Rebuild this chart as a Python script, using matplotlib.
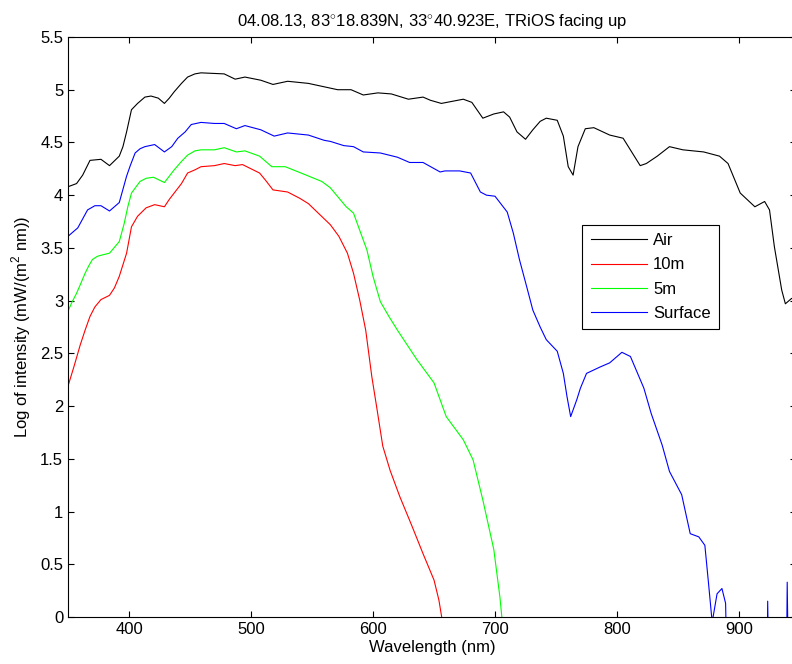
import matplotlib
matplotlib.use('Agg')
import matplotlib.pyplot as plt
import numpy as np

plt.rcParams['font.family'] = ['Liberation Sans', 'DejaVu Sans']
plt.rcParams['mathtext.fontset'] = 'custom'
plt.rcParams['mathtext.rm'] = 'Liberation Sans'

# Air (black)
air_wl = [350, 357, 362, 368, 377, 384, 392, 395, 398, 402, 407, 413, 418, 424, 429,
          433, 437, 443, 448, 454, 459, 478, 487, 495, 508, 518, 530, 547, 571, 582,
          592, 604, 615, 629, 641, 647, 656, 674, 681, 690, 699, 707, 712, 718, 725,
          731, 737, 742, 751, 756, 760, 764, 768, 774, 781, 794, 805, 812, 819, 824,
          833, 843, 854, 871, 884, 891, 901, 913, 921, 925, 929, 935, 938, 943, 947]
air = [4.08, 4.11, 4.19, 4.33, 4.34, 4.28, 4.37, 4.46, 4.60, 4.81, 4.87, 4.93, 4.94, 4.92, 4.87,
       4.92, 4.98, 5.06, 5.12, 5.15, 5.16, 5.15, 5.10, 5.12, 5.09, 5.05, 5.08, 5.06, 5.00, 5.00,
       4.95, 4.97, 4.96, 4.91, 4.93, 4.90, 4.87, 4.91, 4.88, 4.73, 4.77, 4.79, 4.74, 4.60, 4.53,
       4.62, 4.70, 4.73, 4.71, 4.56, 4.27, 4.19, 4.46, 4.63, 4.64, 4.57, 4.54, 4.41, 4.28, 4.30,
       4.37, 4.46, 4.43, 4.41, 4.37, 4.30, 4.02, 3.89, 3.94, 3.86, 3.51, 3.10, 2.97, 3.02, 3.03]

# 10m (red)
m10_wl = [350, 355, 360, 364, 368, 372, 377, 384, 388, 392, 398, 402, 405, 407, 414,
          421, 429, 433, 437, 443, 448, 454, 459, 470, 478, 487, 493, 507, 512, 518,
          530, 540, 547, 556, 565, 572, 579, 584, 589, 594, 599, 603, 608, 614, 622,
          632, 641, 650, 654, 657]
m10 = [2.19, 2.38, 2.58, 2.72, 2.85, 2.94, 3.01, 3.05, 3.12, 3.23, 3.45, 3.70, 3.76, 3.80, 3.88,
       3.91, 3.89, 3.96, 4.02, 4.11, 4.21, 4.24, 4.27, 4.28, 4.30, 4.28, 4.29, 4.21, 4.14, 4.05,
       4.03, 3.97, 3.92, 3.82, 3.72, 3.61, 3.45, 3.26, 3.01, 2.72, 2.28, 1.99, 1.62, 1.39, 1.14,
       0.86, 0.60, 0.35, 0.16, -0.05]

# 5m (green)
m5_wl = [350, 353, 357, 360, 364, 367, 370, 374, 377, 384, 392, 396, 399, 402, 409,
         414, 420, 429, 433, 437, 443, 448, 454, 459, 470, 478, 488, 495, 507, 517,
         528, 541, 558, 565, 578, 584, 589, 595, 600, 606, 613, 620, 636, 650, 660,
         674, 682, 690, 699, 704, 706]
m5 = [2.90, 2.98, 3.07, 3.15, 3.26, 3.33, 3.39, 3.42, 3.43, 3.45, 3.56, 3.73, 3.89, 4.02, 4.13,
      4.16, 4.17, 4.12, 4.18, 4.24, 4.32, 4.38, 4.42, 4.43, 4.43, 4.45, 4.41, 4.42, 4.37, 4.27,
      4.27, 4.21, 4.13, 4.07, 3.89, 3.83, 3.67, 3.48, 3.23, 2.99, 2.85, 2.72, 2.44, 2.22, 1.90,
      1.68, 1.49, 1.11, 0.64, 0.19, -0.05]

# Surface (blue); values below 0 fall outside the axis
surf_wl = [350, 358, 366, 372, 377, 384, 392, 398, 401, 405, 409, 413, 421, 429, 435,
           440, 446, 451, 459, 470, 478, 488, 495, 508, 519, 530, 547, 560, 565, 576,
           584, 592, 606, 620, 630, 641, 655, 659, 671, 680, 688, 693, 700, 710, 715,
           720, 726, 731, 737, 742, 751, 756, 759, 762, 767, 770, 775, 786, 794, 804,
           811, 822, 828, 837, 843, 853, 860, 867, 872, 875, 878, 882, 886, 889, 891,
           921, 922.5, 923.5, 925, 937, 938.5, 939.5, 941, 947]
surf = [3.61, 3.69, 3.86, 3.90, 3.90, 3.85, 3.93, 4.18, 4.28, 4.40, 4.44, 4.46, 4.48, 4.41, 4.46,
        4.54, 4.60, 4.67, 4.69, 4.68, 4.68, 4.63, 4.66, 4.62, 4.56, 4.59, 4.57, 4.52, 4.51, 4.47,
        4.46, 4.41, 4.40, 4.36, 4.31, 4.31, 4.22, 4.23, 4.23, 4.21, 4.03, 4.00, 3.99, 3.84, 3.64,
        3.39, 3.13, 2.91, 2.75, 2.63, 2.52, 2.31, 2.09, 1.90, 2.06, 2.17, 2.31, 2.37, 2.41, 2.51,
        2.47, 2.17, 1.93, 1.63, 1.38, 1.16, 0.79, 0.76, 0.68, 0.32, -0.05, 0.22, 0.27, 0.13, -1.0,
        -1.0, -1.0, 0.15, -1.0, -1.0, -1.0, 0.33, -1.0, -1.0]

fig = plt.figure(figsize=(7.92, 6.64), dpi=100)
ax = fig.add_axes([0.0859, 0.0708, 0.9196, 0.8735])

ax.plot(air_wl, air, color='k', lw=0.8, label='Air')
ax.plot(m10_wl, m10, color='r', lw=0.8, label='10m')
ax.plot(m5_wl, m5, color=(0, 1, 0), lw=0.8, label='5m')
ax.plot(surf_wl, surf, color='b', lw=0.8, label='Surface')

ax.set_xlim(350, 947)
ax.set_ylim(0, 5.5)
ax.set_xticks([400, 500, 600, 700, 800, 900])
ax.set_yticks(np.arange(0, 5.51, 0.5))
ax.set_yticklabels(['0', '0.5', '1', '1.5', '2', '2.5', '3', '3.5', '4', '4.5', '5', '5.5'])
ax.tick_params(direction='in', top=True, right=True, length=4, labelsize=12, width=0.8)
for s in ax.spines.values():
    s.set_linewidth(0.8)

ax.set_xlabel('Wavelength (nm)', fontsize=12, labelpad=2)
ax.set_ylabel(r'Log of intensity (mW/(m$^{2}$ nm))', fontsize=12, labelpad=5)
ax.set_title(r'04.08.13, 83$^{\circ}$18.839N, 33$^{\circ}$40.923E, TRiOS facing up',
             fontsize=12, pad=7)

leg = ax.legend(loc='upper left', bbox_to_anchor=(0.706, 0.676), fontsize=12,
                fancybox=False, framealpha=1, edgecolor='k', handlelength=3.4,
                labelspacing=0.55, borderaxespad=0, handletextpad=0.35,
                borderpad=0.5)
leg.get_frame().set_linewidth(0.8)

fig.savefig('out.png', dpi=100)
